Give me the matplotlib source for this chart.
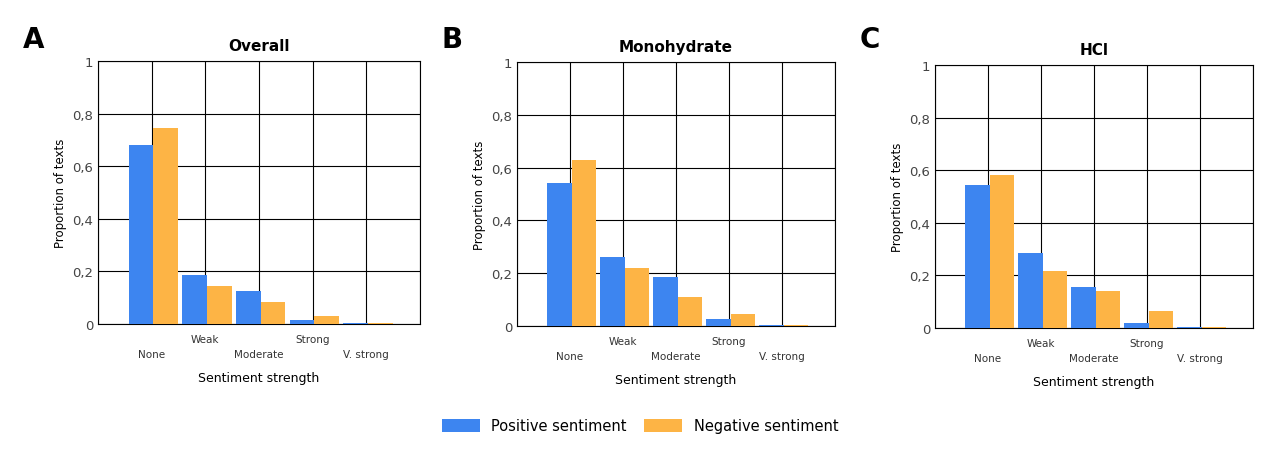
import numpy as np
import matplotlib.pyplot as plt

categories = ["None", "Weak", "Moderate", "Strong", "V. strong"]
titles = ["Overall", "Monohydrate", "HCl"]
letters = ["A", "B", "C"]
positive = [
    [0.68, 0.185, 0.125, 0.015, 0.005],
    [0.54, 0.26, 0.185, 0.025, 0.005],
    [0.545, 0.285, 0.155, 0.02, 0.003],
]
negative = [
    [0.745, 0.145, 0.085, 0.03, 0.005],
    [0.63, 0.22, 0.11, 0.045, 0.003],
    [0.58, 0.215, 0.14, 0.065, 0.003],
]

blue = "#3d85f0"
orange = "#fdb445"

fig = plt.figure(figsize=(12.8, 4.56), dpi=100)
boxes = [
    [98, 62, 420, 325],
    [517, 63, 835, 327],
    [935, 66, 1253, 329],
]

for i, (l, t, r, b) in enumerate(boxes):
    ax = fig.add_axes([l / 1280, 1 - b / 456, (r - l) / 1280, (b - t) / 456])
    x = np.arange(len(categories))
    w = 0.46
    ax.bar(x - w / 2 + 0.03, positive[i], w, color=blue, zorder=3, label="Positive sentiment")
    ax.bar(x + w / 2 + 0.03, negative[i], w, color=orange, zorder=3, label="Negative sentiment")
    ax.set_xlim(-1, 5)
    ax.set_ylim(0, 1)
    ax.set_xticks(range(-1, 6))
    ax.set_xticklabels([])
    ax.set_yticks(np.arange(0, 1.01, 0.2))
    ax.set_yticklabels(["0", "0,2", "0,4", "0,6", "0,8", "1"], fontsize=9.5, color="#444444")
    ax.grid(True, color="black", linewidth=0.8, zorder=0)
    ax.tick_params(length=0)
    for s in ax.spines.values():
        s.set_linewidth(0.8)
    for j, c in enumerate(categories):
        yoff = -0.115 if j % 2 == 0 else -0.057
        ax.text(j, yoff, c, ha="center", va="center", fontsize=7.5, color="#333333",
                transform=ax.get_xaxis_transform())
    ax.set_xlabel("Sentiment strength", fontsize=9, labelpad=30)
    ax.set_ylabel("Proportion of texts", fontsize=8.5)
    ax.set_title(titles[i], fontsize=11, fontweight="bold", pad=8)
    fig.text((l - 75) / 1280, 1 - 40 / 456, letters[i], fontsize=20, fontweight="bold",
             ha="left", va="center")
    if i == 0:
        handles, labels = ax.get_legend_handles_labels()

fig.legend(handles, labels, loc="center", bbox_to_anchor=(0.5, 1 - 427 / 456), ncol=2,
           frameon=False, fontsize=10.5, handlelength=2.6, handleheight=1.0, columnspacing=1.2)
fig.savefig("out.png", dpi=100)
